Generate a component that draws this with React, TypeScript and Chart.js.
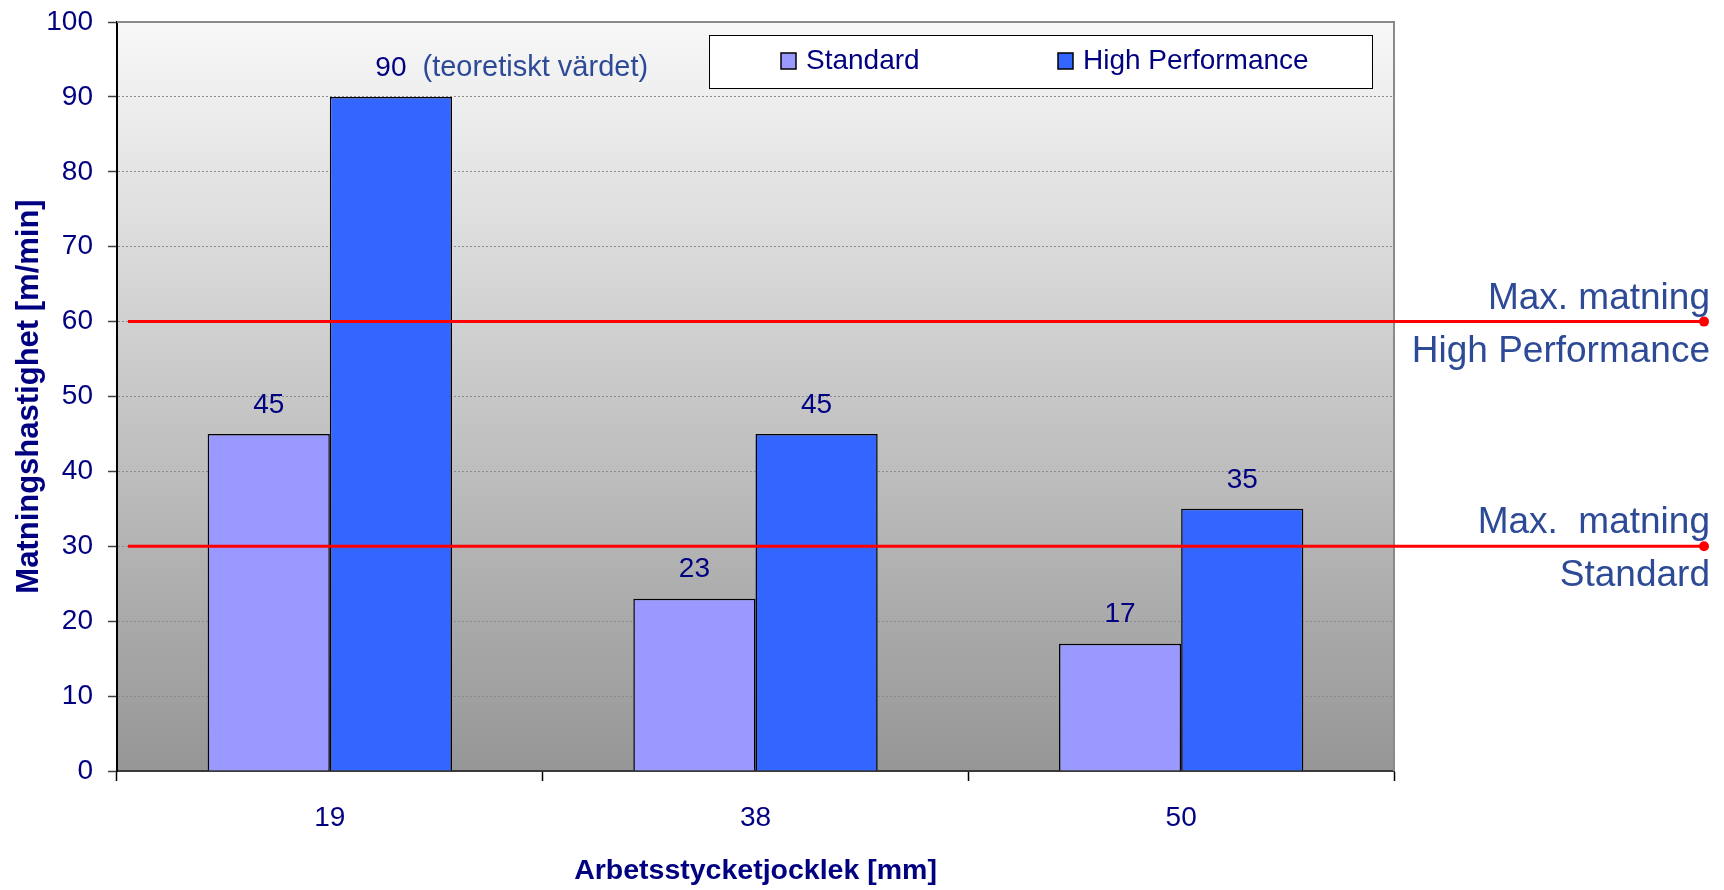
import { useEffect, useRef } from "react";
import { Chart, registerables } from "chart.js";

Chart.register(...registerables);

// ---- data ----
const categories = ["19", "38", "50"];
const seriesNames = ["Standard", "High Performance"];
const standardValues = [45, 23, 17];
const highPerformanceValues = [90, 45, 35];
const seriesColors = ["#9999FF", "#3366FF"];
const yMin = 0;
const yMax = 100;
const yStep = 10;
const maxFeedValues = [60, 30];
const maxFeedLabels = [
  ["Max. matning", "High Performance"],
  ["Max.  matning", "Standard"],
];
const noteText = "(teoretiskt värdet)";
const noteDataset = 1;
const noteIndex = 0;
const xTitle = "Arbetsstycketjocklek [mm]";
const yTitle = "Matningshastighet [m/min]";

const FONT = "'Liberation Sans', Arial, Helvetica, sans-serif";
const NAVY = "#000080";
const NOTE_BLUE = "#2D4A96";

const backgroundPlugin = {
  id: "plotBackground",
  beforeDraw(chart: any) {
    const { ctx, chartArea: a } = chart;
    const g = ctx.createLinearGradient(0, a.top, 0, a.bottom);
    g.addColorStop(0, "#F8F8F8");
    g.addColorStop(1, "#969696");
    ctx.save();
    ctx.fillStyle = g;
    ctx.fillRect(a.left, a.top, a.right - a.left, a.bottom - a.top);
    ctx.restore();
  },
  beforeDatasetsDraw(chart: any) {
    const { ctx, chartArea: a } = chart;
    ctx.save();
    ctx.strokeStyle = "#8A8A8A";
    ctx.lineWidth = 2;
    ctx.beginPath();
    ctx.moveTo(a.left, a.top);
    ctx.lineTo(a.right, a.top);
    ctx.lineTo(a.right, a.bottom);
    ctx.stroke();
    ctx.restore();
  },
};

const annotationPlugin = {
  id: "annotations",
  afterDatasetsDraw(chart: any) {
    const { ctx, chartArea: a, scales } = chart;
    const y = scales.y;
    ctx.save();
    // value labels
    ctx.textBaseline = "middle";
    chart.data.datasets.forEach((ds: any, di: number) => {
      const meta = chart.getDatasetMeta(di);
      meta.data.forEach((bar: any, i: number) => {
        const label = String(ds.data[i]);
        ctx.font = `28px ${FONT}`;
        ctx.fillStyle = NAVY;
        ctx.textAlign = "center";
        ctx.fillText(label, bar.x, bar.y - 29);
        if (di === noteDataset && i === noteIndex) {
          const w = ctx.measureText(label).width;
          ctx.font = `29px ${FONT}`;
          ctx.fillStyle = NOTE_BLUE;
          ctx.textAlign = "left";
          ctx.fillText(noteText, bar.x + w / 2 + 16, bar.y - 29);
        }
      });
    });
    // max feed lines
    const endX = 1704;
    maxFeedValues.forEach((v, k) => {
      const py = y.getPixelForValue(v);
      ctx.strokeStyle = "#FF0000";
      ctx.lineWidth = 3;
      ctx.beginPath();
      ctx.moveTo(a.left + 11, py);
      ctx.lineTo(endX, py);
      ctx.stroke();
      ctx.fillStyle = "#FF0000";
      ctx.beginPath();
      ctx.arc(endX, py, 5, 0, Math.PI * 2);
      ctx.fill();
      ctx.font = `37px ${FONT}`;
      ctx.fillStyle = NOTE_BLUE;
      ctx.textAlign = "right";
      ctx.textBaseline = "alphabetic";
      ctx.fillText(maxFeedLabels[k][0], 1710, py - 13);
      ctx.fillText(maxFeedLabels[k][1], 1710, py + 40);
    });
    ctx.restore();
  },
  afterDraw(chart: any) {
    const { ctx } = chart;
    ctx.save();
    // legend box
    const bx = 709, by = 35, bw = 663, bh = 53;
    ctx.fillStyle = "#FFFFFF";
    ctx.fillRect(bx, by, bw, bh);
    ctx.strokeStyle = "#000000";
    ctx.lineWidth = 1;
    ctx.strokeRect(bx + 0.5, by + 0.5, bw, bh);
    const entryX = [781, 1058];
    ctx.font = `28px ${FONT}`;
    ctx.textAlign = "left";
    ctx.textBaseline = "middle";
    chart.data.datasets.forEach((ds: any, i: number) => {
      const x = entryX[i];
      ctx.fillStyle = ds.backgroundColor;
      ctx.fillRect(x, 53, 15, 16);
      ctx.strokeStyle = "#000";
      ctx.lineWidth = 1.5;
      ctx.strokeRect(x, 53, 15, 16);
      ctx.fillStyle = NAVY;
      ctx.fillText(ds.label, x + 25, 61);
    });
    ctx.restore();
  },
};

export default function App() {
  const ref = useRef<HTMLCanvasElement>(null);
  useEffect(() => {
    Chart.defaults.font.family = FONT;
    const chart = new Chart(ref.current!, {
      type: "bar",
      data: {
        labels: categories,
        datasets: [
          {
            label: seriesNames[0],
            data: standardValues,
            backgroundColor: seriesColors[0],
            borderColor: "#000000",
            borderWidth: 1.5,
            barPercentage: 1,
            categoryPercentage: 0.574,
          },
          {
            label: seriesNames[1],
            data: highPerformanceValues,
            backgroundColor: seriesColors[1],
            borderColor: "#000000",
            borderWidth: 1.5,
            barPercentage: 1,
            categoryPercentage: 0.574,
          },
        ],
      },
      options: {
        animation: false,
        responsive: true,
        maintainAspectRatio: false,
        layout: { padding: { top: 22, right: 330, left: 0, bottom: 0 } },
        plugins: {
          legend: { display: false },
          tooltip: { enabled: false },
        },
        scales: {
          x: {
            offset: true,
            grid: {
              display: true,
              offset: true,
              drawOnChartArea: false,
              drawTicks: true,
              tickLength: 10,
              tickColor: "#000000",
              tickWidth: 1.5,
            },
            border: { display: true, color: "#3A3A3A", width: 2 },
            ticks: {
              color: NAVY,
              font: { size: 28, family: FONT },
              padding: 20,
            },
            title: {
              display: true,
              text: xTitle,
              color: NAVY,
              font: { size: 28.5, weight: "bold", family: FONT },
              padding: { top: 0, bottom: 2 },
            },
            afterFit(scale: any) {
              scale.height = 119;
            },
          },
          y: {
            min: yMin,
            max: yMax,
            ticks: {
              stepSize: yStep,
              color: NAVY,
              font: { size: 28, family: FONT },
              padding: 15,
            },
            grid: {
              color: (c: any) =>
                c.tick && (c.tick.value === yMin || c.tick.value === yMax)
                  ? "rgba(0,0,0,0)"
                  : "#8C8C8C",
              lineWidth: 1,
              tickLength: 9,
              tickColor: "#404040",
              tickWidth: 1.5,
              tickBorderDash: [],
            },
            border: { display: true, color: "#000000", width: 2, dash: [2, 2] },
            title: {
              display: true,
              text: yTitle,
              color: NAVY,
              font: { size: 31, weight: "bold", family: FONT },
              padding: { top: 11, bottom: 0 },
            },
            afterFit(scale: any) {
              scale.width = 117;
              scale.paddingTop = 0;
              scale.paddingBottom = 0;
            },
          },
        },
      } as any,
      plugins: [backgroundPlugin, annotationPlugin],
    });
    return () => chart.destroy();
  }, []);
  return (
    <div
      style={{
        position: "fixed",
        left: 0,
        top: 0,
        width: 1724,
        height: 890,
        background: "#FFFFFF",
      }}
    >
      <canvas ref={ref} />
    </div>
  );
}
